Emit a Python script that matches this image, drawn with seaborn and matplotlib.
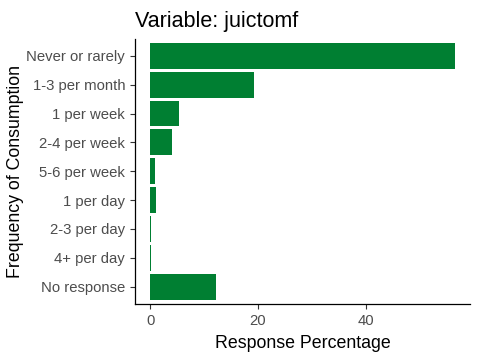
import pandas as pd
import matplotlib.pyplot as plt
import seaborn as sns

categories = ['Never or rarely', '1-3 per month', '1 per week', '2-4 per week',
              '5-6 per week', '1 per day', '2-3 per day', '4+ per day', 'No response']
percentages = [56.5, 19.3, 5.4, 4.1, 0.95, 1.1, 0.25, 0.12, 12.2]

df = pd.DataFrame({'freq': categories, 'pct': percentages})

sns.set_style('ticks')
plt.rcParams['font.family'] = ['Liberation Sans', 'DejaVu Sans']

fig = plt.figure(figsize=(4.8, 3.6), dpi=100)
ax = fig.add_axes([0.281, 0.156, 0.698, 0.737])

sns.barplot(data=df, x='pct', y='freq', order=categories, color='#007F32',
            saturation=1, width=0.9, linewidth=0, ax=ax)

xmax = max(percentages)
pad = xmax * 0.05
ax.set_xlim(-pad, xmax + pad)
ax.set_ylim(len(categories) - 0.4, -0.6)
ax.set_xticks([0, 20, 40])

ax.set_xlabel('Response Percentage', fontsize=12.8, color='black', labelpad=5)
ax.set_ylabel('Frequency of Consumption', fontsize=12.8, color='black', labelpad=2)
ax.tick_params(axis='both', labelsize=10.7, labelcolor='#4D4D4D', color='#333333',
               length=3.5, width=0.8)
for side in ['top', 'right']:
    ax.spines[side].set_visible(False)
for side in ['left', 'bottom']:
    ax.spines[side].set_linewidth(0.9)
    ax.spines[side].set_color('black')

ax.set_title('Variable: juictomf', loc='left', fontsize=15.5, pad=8, color='black')

fig.savefig('out.png', dpi=100)
